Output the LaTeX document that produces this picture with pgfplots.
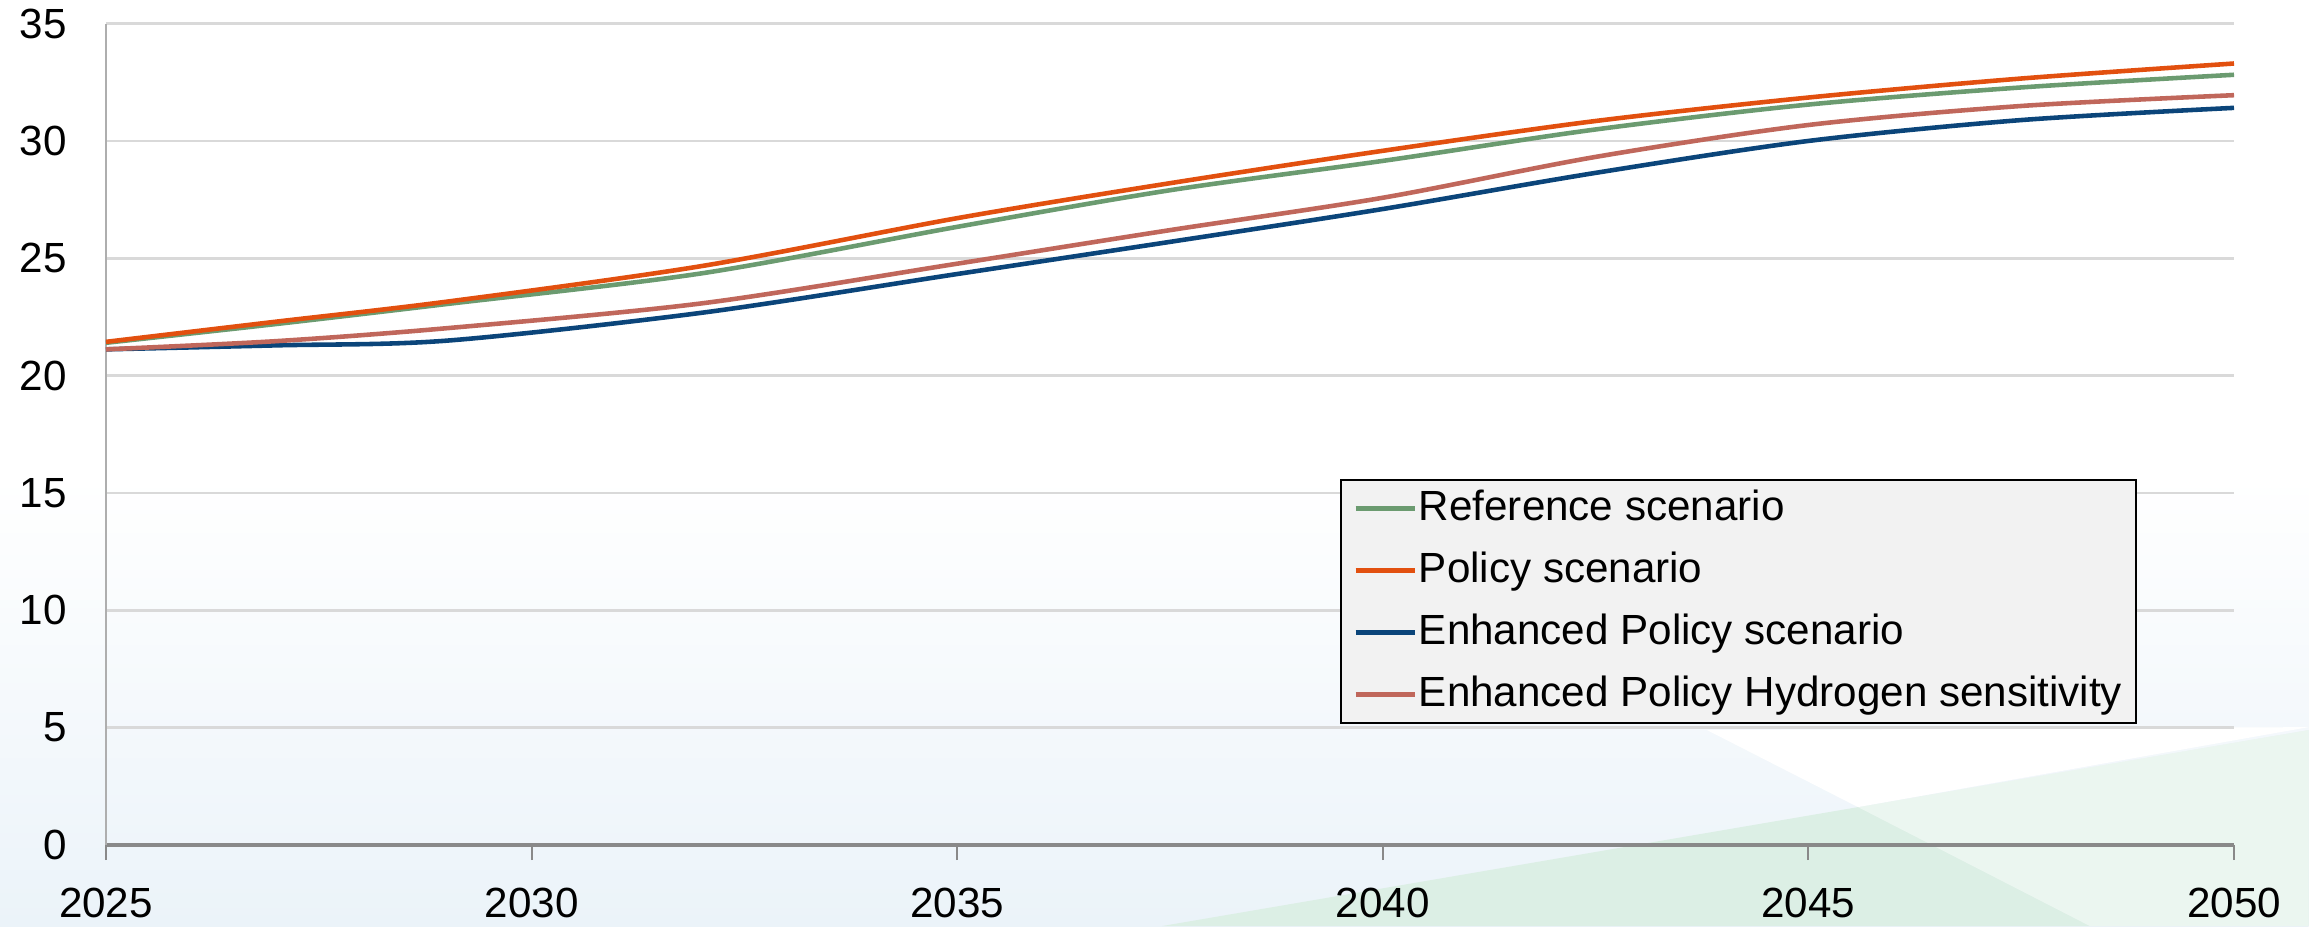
\documentclass[border=0pt]{standalone}
\usepackage{fontspec}
\setmainfont{Liberation Sans}
\usepackage{pgfplots}
\pgfplotsset{compat=1.18}

\definecolor{refgreen}{RGB}{107,155,112}
\definecolor{polorange}{RGB}{226,80,15}
\definecolor{enhblue}{RGB}{11,69,122}
\definecolor{hydbrown}{RGB}{192,103,91}
\definecolor{gridgray}{RGB}{217,217,217}
\definecolor{axisgray}{RGB}{137,137,137}
\definecolor{legfill}{RGB}{242,242,242}
\definecolor{bgblue}{RGB}{235,243,249}
\definecolor{bgmint}{RGB}{220,239,229}

\begin{document}
\begin{tikzpicture}
\useasboundingbox (0,0) rectangle (23.1cm,9.26cm);
% background, in pixel units of the reference
\begin{scope}[x=0.01cm,y=0.01cm]
  \shade[top color=white, bottom color=bgblue] (0,0) rectangle (2310,450);
  \fill[bgmint] (1163,0) -- (2310,196) -- (2310,0) -- cycle;
  \fill[white] (1708,196) -- (2310,199) -- (1859,119) -- cycle;
  \fill[white, opacity=0.45] (1859,119) -- (2310,196) -- (2310,0) -- (2091,0) -- cycle;
\end{scope}

\begin{axis}[
    at={(1.06cm,0.81cm)}, anchor=south west,
    scale only axis,
    width=21.28cm, height=8.214cm,
    xmin=2025, xmax=2050,
    ymin=0, ymax=35,
    xtick={2025,2030,...,2050},
    ytick={0,5,...,35},
    /pgf/number format/1000 sep={},
    /pgf/number format/assume math mode=true,
    axis x line*=bottom,
    axis y line*=left,
    x axis line style={axisgray, line width=0.9pt, -},
    y axis line style={gridgray!80!black, line width=0.6pt, -},
    tick align=outside,
    xtick style={axisgray, line width=0.6pt},
    major tick length=1.5mm,
    ytick style={draw=none},
    ymajorgrids,
    grid style={gridgray, line width=0.7pt},
    tick label style={font=\fontsize{12}{14}\selectfont, black},
    xticklabel style={yshift=-1.6mm},
    yticklabel style={xshift=-1.2mm},
    legend style={
        at={(0.580,0.4456)}, anchor=north west,
        fill=legfill, draw=black, line width=0.6pt,
        inner xsep=1.2mm, inner ysep=0.5mm,
        font=\fontsize{12}{14}\selectfont,
        nodes={inner sep=0.2mm, text height=3.3mm, text depth=1mm},
        row sep=1.5mm,
    },
    legend cell align=left,
    legend image code/.code={\draw[#1, line width=1.3pt] (0mm,0mm) -- (5.9mm,0mm);},
    every axis plot/.append style={line width=1.3pt, no marks, smooth},
]
\addplot[refgreen] coordinates {
  (2025,21.40) (2027,22.20) (2029,23.05) (2032,24.36) (2035,26.34)
  (2037.5,27.90) (2040,29.15) (2042.5,30.49) (2045,31.55) (2047.5,32.28) (2050,32.82)};
\addlegendentry{Reference scenario}
\addplot[polorange] coordinates {
  (2025,21.44) (2027,22.30) (2029,23.15) (2032,24.67) (2035,26.71)
  (2037.5,28.20) (2040,29.58) (2042.5,30.85) (2045,31.85) (2047.5,32.66) (2050,33.30)};
\addlegendentry{Policy scenario}
\addplot[enhblue] coordinates {
  (2025,21.12) (2027,21.29) (2029,21.49) (2032,22.68) (2035,24.33)
  (2037.5,25.70) (2040,27.10) (2042.5,28.64) (2045,30.00) (2047.5,30.89) (2050,31.41)};
\addlegendentry{Enhanced Policy scenario}
\addplot[hydbrown] coordinates {
  (2025,21.12) (2027,21.47) (2029,22.02) (2032,23.08) (2035,24.77)
  (2037.5,26.20) (2040,27.58) (2042.5,29.32) (2045,30.68) (2047.5,31.49) (2050,31.95)};
\addlegendentry{Enhanced Policy Hydrogen sensitivity}
\end{axis}
\end{tikzpicture}
\end{document}
